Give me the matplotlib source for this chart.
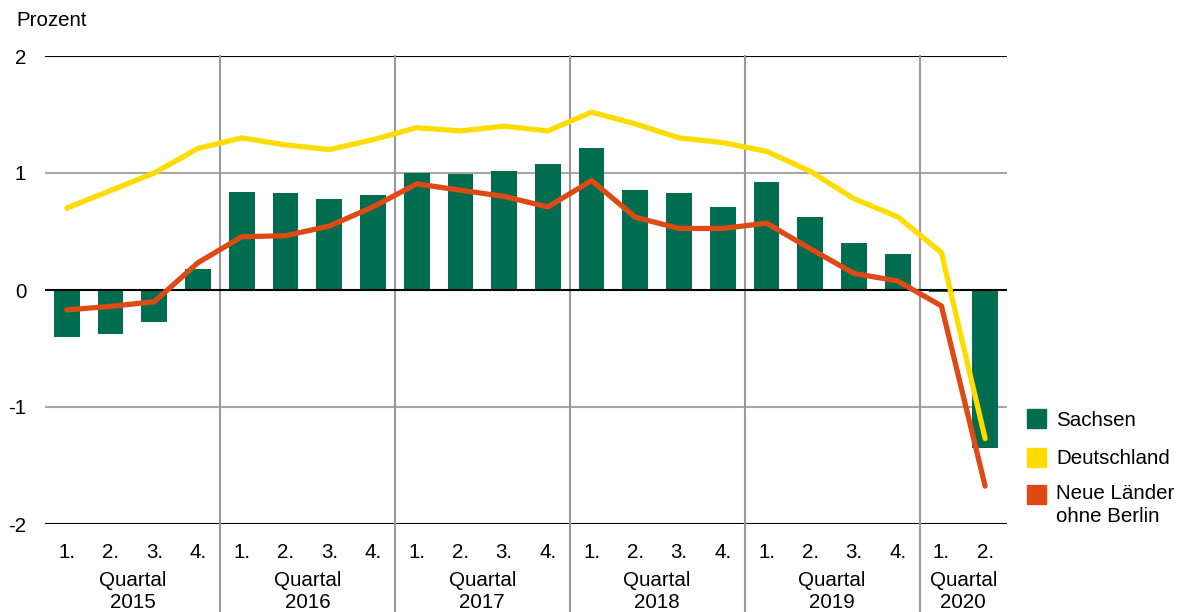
import matplotlib
matplotlib.use("Agg")
import matplotlib.pyplot as plt
import matplotlib.transforms as mtransforms
from matplotlib.patches import Rectangle

plt.rcParams['font.family'] = ['Liberation Sans', 'DejaVu Sans']

quarter_labels = ["1.", "2.", "3.", "4."] * 5 + ["1.", "2."]
years = ["2015", "2016", "2017", "2018", "2019", "2020"]
group_label = "Quartal"

sachsen = [-0.40, -0.38, -0.27, 0.18,
           0.835, 0.83, 0.78, 0.81,
           1.00, 0.995, 1.015, 1.08,
           1.217, 0.856, 0.827, 0.713,
           0.924, 0.626, 0.40, 0.31,
           -0.02, -1.347]
deutschland = [0.70, 0.85, 1.00, 1.21,
               1.30, 1.24, 1.20, 1.285,
               1.387, 1.36, 1.40, 1.36,
               1.52, 1.42, 1.30, 1.26,
               1.185, 1.015, 0.78, 0.626,
               0.32, -1.27]
neue_laender = [-0.17, -0.14, -0.10, 0.234,
                0.455, 0.464, 0.546, 0.71,
                0.907, 0.853, 0.80, 0.71,
                0.935, 0.622, 0.526, 0.526,
                0.571, 0.353, 0.142, 0.077,
                -0.136, -1.676]
series_names = ["Sachsen", "Deutschland", "Neue Länder\nohne Berlin"]
yticks = [-2, -1, 0, 1, 2]

GREEN = "#006D4F"
YELLOW = "#FFDC00"
RED = "#DE4A15"
GRID = "#A6A6A6"
SEP = "#999999"
FS = 14.8

fig = plt.figure(figsize=(11.82, 6.12), dpi=100)
W, H = 1182, 612
ax_l, ax_r, ax_t, ax_b = 45, 1007, 56, 524
ax = fig.add_axes([ax_l / W, 1 - ax_b / H, (ax_r - ax_l) / W, (ax_b - ax_t) / H])

x = list(range(len(sachsen)))
ax.set_xlim(-0.5, len(x) - 0.5)
ax.set_ylim(-2, 2)

for v in yticks:
    col = "black" if v in (-2, 0, 2) else GRID
    z = 3 if v == 0 else 1
    ax.axhline(v, color=col, lw=1.5, zorder=z)

# year separators (extend to bottom of figure)
axes_h = ax_b - ax_t
ymin_ext = -(H - ax_b) / axes_h
group_sizes = [4, 4, 4, 4, 4, 2]
pos = -0.5
centers = []
for i, n in enumerate(group_sizes):
    centers.append(pos + n / 2)
    pos += n
    if i < len(group_sizes) - 1:
        ax.axvline(pos, ymin=ymin_ext, ymax=1, color=SEP, lw=1.5, clip_on=False, zorder=1)

ax.bar(x, sachsen, width=0.59, color=GREEN, zorder=2)
ax.plot(x, deutschland, color=YELLOW, lw=3.8, solid_capstyle='round', solid_joinstyle='round', zorder=4)
ax.plot(x, neue_laender, color=RED, lw=3.8, solid_capstyle='round', solid_joinstyle='round', zorder=5)

for s in ax.spines.values():
    s.set_visible(False)
ax.set_yticks(yticks)
ax.set_yticklabels([str(v) for v in yticks], fontsize=FS)
ax.tick_params(axis='y', length=0, pad=13.5)
ax.set_xticks([])

trans = mtransforms.blended_transform_factory(ax.transData, ax.transAxes)
y_q = -(551 - ax_b) / axes_h
y_g = -(578 - ax_b) / axes_h
y_y = -(601 - ax_b) / axes_h
for xi, lab in zip(x, quarter_labels):
    ax.text(xi, y_q, lab, transform=trans, ha='center', va='center_baseline', fontsize=FS)
for c, yr in zip(centers, years):
    ax.text(c, y_g, group_label, transform=trans, ha='center', va='center_baseline', fontsize=FS)
    ax.text(c, y_y, yr, transform=trans, ha='center', va='center_baseline', fontsize=FS)

fig.text(16 / W, 1 - 18 / H, "Prozent", ha='left', va='center_baseline', fontsize=FS)

# legend
leg_cols = [GREEN, YELLOW, RED]
leg_y = [418, 457, 494]
sq = 19
for col, yy, name in zip(leg_cols, leg_y, series_names):
    fig.patches.append(Rectangle((1027 / W, 1 - (yy + sq / 2) / H), sq / W, sq / H,
                                 transform=fig.transFigure, color=col))
    if '\n' in name:
        fig.text(1056 / W, 1 - (yy - 10) / H, name, ha='left', va='top',
                 fontsize=FS, linespacing=1.27)
    else:
        fig.text(1056 / W, 1 - yy / H, name, ha='left', va='center_baseline', fontsize=FS)

fig.savefig("out.png", dpi=100)
